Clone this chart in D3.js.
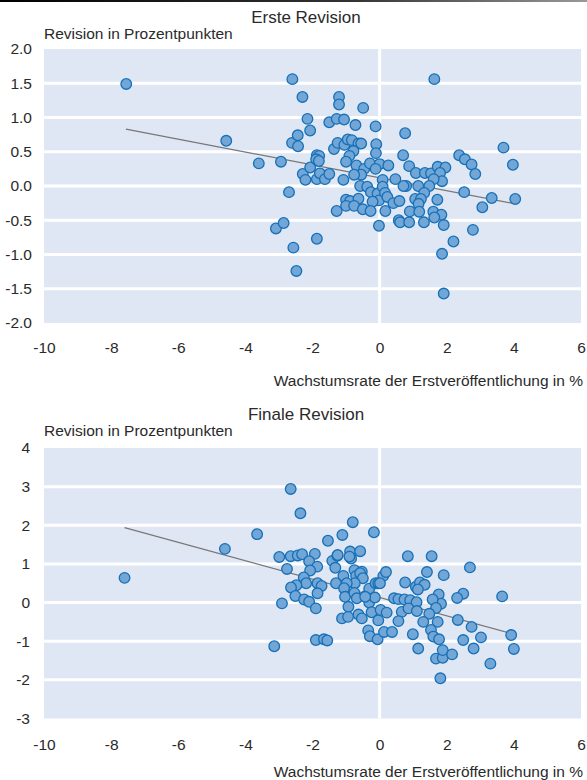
<!DOCTYPE html>
<html>
<head>
<meta charset="utf-8">
<script src="https://cdn.jsdelivr.net/npm/d3@7/dist/d3.min.js"></script>
<style>
  body { margin: 0; background: #fff; }
  svg { display: block; font-family: "Liberation Sans", Arial, sans-serif; }
</style>
</head>
<body>
<svg id="chart" width="587" height="780"></svg>
<script>
/* Revisionen des BIP-Wachstums gegen die Erstveröffentlichung. */

const xTicks = [-10, -8, -6, -4, -2, 0, 2, 4, 6];
const xTickLabels = ["-10", "-8", "-6", "-4", "-2", "0", "2", "4", "6"];

const ersteYTicks = [-2, -1.5, -1, -0.5, 0, 0.5, 1, 1.5, 2];
const ersteYTickLabels = ["-2.0", "-1.5", "-1.0", "-0.5", "0.0", "0.5", "1.0", "1.5", "2.0"];

const finaleYTicks = [-3, -2, -1, 0, 1, 2, 3, 4];
const finaleYTickLabels = ["-3", "-2", "-1", "0", "1", "2", "3", "4"];

/* [Wachstumsrate Erstveröffentlichung, Revision] */
const ersteRevision = [
  [-7.55, 1.49], [-4.57, 0.66], [-3.60, 0.33], [-2.94, 0.355], [-2.70, -0.09],
  [-3.09, -0.62], [-2.86, -0.54], [-2.57, -0.90], [-2.48, -1.24], [-2.60, 1.56],
  [-2.30, 1.30], [-2.61, 0.63], [-2.44, 0.74], [-2.43, 0.58], [-2.15, 0.98],
  [-2.07, 0.81], [-2.29, 0.175], [-2.21, 0.09], [-2.07, 0.27], [-1.87, 0.45],
  [-1.80, 0.44], [-1.89, 0.39], [-1.81, 0.365], [-1.87, 0.10], [-1.78, 0.185],
  [-1.63, 0.10], [-1.50, 0.175], [-1.87, -0.77], [-1.21, 1.30], [-1.21, 1.19],
  [-1.50, 0.93], [-1.28, 0.98], [-1.06, 0.97], [-0.49, 1.14], [-0.72, 0.89],
  [-0.12, 0.87], [-1.36, 0.54], [-1.25, 0.63], [-1.05, 0.60], [-0.95, 0.68],
  [-0.83, 0.67], [-0.63, 0.62], [-0.55, 0.62], [-0.10, 0.61], [-0.78, 0.51],
  [-0.90, 0.44], [-1.00, 0.355], [-0.69, 0.30], [-0.46, 0.25], [-0.29, 0.33],
  [-0.11, 0.48], [-0.55, 0.165], [-0.76, 0.165], [-1.08, 0.09], [0.00, 0.32],
  [-0.12, 0.25], [-0.58, 0.00], [-0.37, -0.01], [-0.26, -0.09], [-0.06, -0.11],
  [-0.02, -0.21], [-0.21, -0.23], [-1.00, -0.20], [-0.88, -0.22], [-0.63, -0.185],
  [-1.00, -0.29], [-0.76, -0.29], [-0.50, -0.34], [-0.27, -0.365], [-1.28, -0.365],
  [-0.02, -0.58], [0.09, 0.09], [0.09, -0.01], [0.16, -0.10], [0.23, -0.16],
  [0.17, -0.365], [0.26, 0.30], [0.47, 0.10], [0.41, -0.25], [0.59, -0.22],
  [0.70, 0.45], [0.76, 0.77], [0.88, 0.29], [1.08, 0.19], [1.35, 0.19],
  [1.53, 0.185], [1.73, 0.28], [1.96, 0.27], [1.80, 0.19], [1.86, 0.07],
  [1.61, 0.10], [1.48, 0.00], [1.15, 0.00], [0.79, 0.00], [0.71, 0.00],
  [1.33, -0.10], [1.06, -0.19], [1.23, -0.19], [1.16, -0.26], [0.90, -0.37],
  [1.18, -0.375], [0.57, -0.50], [0.61, -0.53], [0.88, -0.53], [1.32, -0.53],
  [1.60, -0.375], [1.84, -0.42], [1.63, -0.46], [1.91, -0.57], [1.72, -0.20],
  [1.86, -0.99], [1.91, -1.57], [2.20, -0.81], [2.78, -0.64], [2.52, -0.09],
  [3.06, -0.31], [3.34, -0.175], [4.04, -0.19], [3.97, 0.31], [3.69, 0.56],
  [2.37, 0.45], [2.54, 0.39], [2.74, 0.315], [2.85, 0.175], [1.63, 1.56]
];

const finaleRevision = [
  [-7.60, 0.64], [-4.61, 1.39], [-3.65, 1.77], [-2.65, 2.94], [-2.36, 2.31],
  [-2.99, 1.18], [-2.65, 1.20], [-2.44, 1.22], [-2.31, 1.25], [-1.93, 1.26],
  [-2.10, 1.07], [-2.76, 0.87], [-1.86, 0.93], [-2.07, 0.83], [-2.26, 0.65],
  [-2.19, 0.50], [-2.48, 0.45], [-2.64, 0.39], [-2.51, 0.17], [-2.25, 0.08],
  [-2.10, 0.02], [-2.91, -0.02], [-1.90, -0.15], [-1.85, 0.50], [-1.73, 0.43],
  [-1.85, 0.24], [-3.14, -1.13], [-1.90, -0.97], [-1.66, -0.95], [-1.56, -0.98],
  [-0.80, 2.08], [-0.17, 1.82], [-1.54, 1.60], [-1.11, 1.75], [-1.41, 1.08],
  [-1.26, 1.21], [-1.32, 0.90], [-0.88, 1.32], [-0.85, 1.14], [-0.90, 1.19],
  [-0.58, 1.33], [-1.25, 1.23], [-1.08, 0.69], [-1.30, 0.50], [-0.75, 0.84],
  [-0.53, 0.80], [-0.61, 0.71], [-0.70, 0.69], [-0.58, 0.76], [-0.50, 0.63],
  [-0.74, 0.50], [-0.98, 0.50], [-1.06, 0.37], [-1.03, 0.15], [-0.75, 0.25],
  [-0.68, 0.11], [-0.41, 0.17], [-0.31, 0.36], [-0.12, 0.50], [-0.04, 0.50],
  [-0.93, -0.11], [-0.31, 0.00], [-0.14, 0.13], [-0.43, 0.15], [-0.63, -0.31],
  [-0.53, -0.41], [-1.12, -0.41], [-0.94, -0.37], [-0.24, -0.25], [-0.04, -0.46],
  [-0.34, -0.72], [-0.29, -0.87], [-0.06, -0.95], [0.03, -0.19], [0.13, -0.76],
  [0.37, -0.76], [0.21, -0.26], [0.11, 0.69], [0.19, 0.79], [0.01, 0.50],
  [0.43, 0.11], [0.56, 0.09], [0.74, 0.08], [0.91, 0.06], [0.66, -0.24],
  [0.56, -0.48], [0.76, 0.52], [1.08, 0.41], [1.20, 0.52], [1.34, 0.46],
  [1.14, 0.34], [0.84, 1.20], [1.55, 1.20], [2.69, 0.91], [1.41, 0.79],
  [1.91, 0.71], [2.49, 0.23], [2.31, 0.12], [3.65, 0.16], [1.76, 0.21],
  [1.83, -0.03], [1.58, 0.08], [1.68, -0.14], [1.10, 0.01], [0.86, -0.15],
  [1.11, -0.22], [1.48, -0.29], [1.30, -0.50], [1.73, -0.50], [1.53, -0.71],
  [1.60, -0.88], [1.77, -0.95], [0.99, -0.82], [1.15, -1.19], [1.68, -1.45],
  [1.88, -1.43], [1.88, -1.23], [2.16, -1.34], [1.81, -1.96], [2.49, -0.97],
  [2.80, -1.19], [3.02, -0.90], [2.74, -0.63], [2.33, -0.45], [3.30, -1.58],
  [3.92, -0.84], [4.00, -1.20]
];

/* Trendlinien: [x, y] am Anfang und Ende */
const ersteTrend = [[-7.56, 0.83], [4.04, -0.26]];
const finaleTrend = [[-7.60, 1.94], [4.00, -0.82]];

const svg = d3.select("#chart");

/* ---------- Rahmenlinie oben ---------- */
const defs = svg.append("defs");
const grad = defs.append("linearGradient").attr("id", "topline");
grad.append("stop").attr("offset", "0%").attr("stop-color", "#000");
grad.append("stop").attr("offset", "60%").attr("stop-color", "#333");
grad.append("stop").attr("offset", "100%").attr("stop-color", "#999");
svg.append("rect")
  .attr("x", 0).attr("y", 0).attr("width", 587).attr("height", 2)
  .attr("fill", "url(#topline)");

drawPanel({
  title: "Erste Revision",
  titleY: 23,
  labelY: 38.5,
  top: 49,
  bottom: 323,
  domain: [-2, 2],
  yTicks: ersteYTicks,
  yLabels: ersteYTickLabels,
  yPad: 12,
  points: ersteRevision,
  trend: ersteTrend,
  xTickY: 348,
  xTitleY: 386
});

drawPanel({
  title: "Finale Revision",
  titleY: 420,
  labelY: 436,
  top: 448,
  bottom: 718.5,
  domain: [-3, 4],
  yTicks: finaleYTicks,
  yLabels: finaleYTickLabels,
  yPad: 14,
  points: finaleRevision,
  trend: finaleTrend,
  xTickY: 745,
  xTitleY: 777
});

function drawPanel(cfg) {
  const x = d3.scaleLinear().domain([-10, 6]).range([44, 581]);
  const y = d3.scaleLinear().domain(cfg.domain).range([cfg.bottom, cfg.top]);
  const g = svg.append("g");

  g.append("rect")
    .attr("x", x(-10)).attr("y", y(cfg.domain[1]))
    .attr("width", x(6) - x(-10)).attr("height", y(cfg.domain[0]) - y(cfg.domain[1]))
    .attr("fill", "#dfe7f4");

  /* weiße Gitterlinien (ohne die Ränder) */
  g.selectAll("line.grid")
    .data(cfg.yTicks.slice(1, -1))
    .enter().append("line")
    .attr("class", "grid")
    .attr("x1", x(-10)).attr("x2", x(6))
    .attr("y1", function (d) { return y(d); })
    .attr("y2", function (d) { return y(d); })
    .attr("stroke", "#fff").attr("stroke-width", 3);

  g.append("line")
    .attr("x1", x(0)).attr("x2", x(0))
    .attr("y1", y(cfg.domain[1])).attr("y2", y(cfg.domain[0]))
    .attr("stroke", "#fff").attr("stroke-width", 3);

  g.append("line")
    .attr("x1", x(cfg.trend[0][0])).attr("y1", y(cfg.trend[0][1]))
    .attr("x2", x(cfg.trend[1][0])).attr("y2", y(cfg.trend[1][1]))
    .attr("stroke", "#777").attr("stroke-width", 1.2);

  g.selectAll("circle")
    .data(cfg.points)
    .enter().append("circle")
    .attr("cx", function (d) { return x(d[0]); })
    .attr("cy", function (d) { return y(d[1]); })
    .attr("r", 5.3)
    .attr("fill", "#72a6d6")
    .attr("stroke", "#1570b8")
    .attr("stroke-width", 1.3);

  /* Achsen */
  const yAxis = d3.axisLeft(y)
    .tickValues(cfg.yTicks)
    .tickSize(0)
    .tickPadding(cfg.yPad)
    .tickFormat(function (d, i) { return cfg.yLabels[i]; });
  const yG = g.append("g").attr("transform", "translate(" + x(-10) + ",0)").call(yAxis);

  const xAxis = d3.axisBottom(x)
    .tickValues(xTicks)
    .tickSize(0)
    .tickPadding(0)
    .tickFormat(function (d, i) { return xTickLabels[i]; });
  const xG = g.append("g").attr("transform", "translate(0," + cfg.xTickY + ")").call(xAxis);
  xG.selectAll("text").attr("y", 0).attr("dy", "0.35em");

  [yG, xG].forEach(function (a) {
    a.select(".domain").remove();
    a.selectAll("text")
      .attr("fill", "#2a2a2a")
      .style("font-size", "15.5px")
      .style("font-family", "'Liberation Sans', Arial, sans-serif");
  });

  /* Beschriftungen */
  g.append("text")
    .attr("x", 306).attr("y", cfg.titleY)
    .attr("text-anchor", "middle")
    .attr("fill", "#2a2a2a")
    .style("font-size", "17px")
    .text(cfg.title);

  g.append("text")
    .attr("x", 44).attr("y", cfg.labelY)
    .attr("fill", "#2a2a2a")
    .style("font-size", "15.5px")
    .text("Revision in Prozentpunkten");

  g.append("text")
    .attr("x", 583).attr("y", cfg.xTitleY)
    .attr("text-anchor", "end")
    .attr("fill", "#2a2a2a")
    .style("font-size", "15.5px")
    .text("Wachstumsrate der Erstveröffentlichung in %");
}
</script>
</body>
</html>
